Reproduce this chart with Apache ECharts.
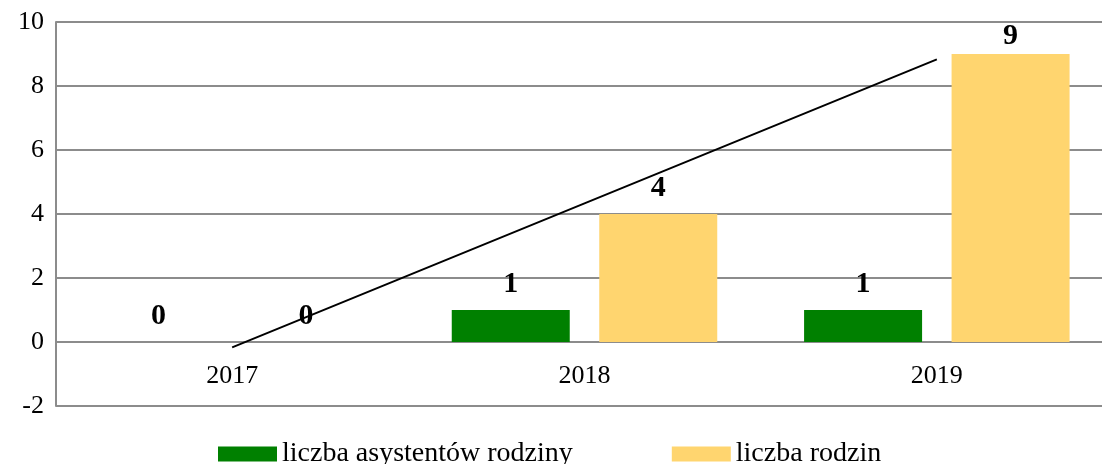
<!DOCTYPE html>
<html>
<head>
<meta charset="utf-8">
<script src="https://cdn.jsdelivr.net/npm/echarts@6/dist/echarts.min.js"></script>
<style>
html,body{margin:0;padding:0;background:#fff;overflow:hidden;}
#chart{width:1113px;height:464px;}
</style>
</head>
<body>
<div id="chart"></div>
<script>
var categories = ['2017', '2018', '2019'];
var asystenci = [0, 1, 1];
var rodziny = [0, 4, 9];
var trend = [-0.17, 4.33, 8.83];
var seriesNames = ['liczba asystentów rodziny', 'liczba rodzin', 'Liniowy (liczba rodzin)'];

var FONT = '"Liberation Serif", "Times New Roman", serif';
var chart = echarts.init(document.getElementById('chart'));
var labelStyle = {
  show: true, position: 'top', distance: 11,
  fontFamily: FONT, fontWeight: 'bold', fontSize: 30, color: '#000'
};
var rodzinyData = rodziny.map(function (v) {
  return v >= 9 ? { value: v, label: { distance: 3 } } : v;
});
chart.setOption({
  animation: false,
  textStyle: { fontFamily: FONT },
  grid: { left: 56, right: 0, top: 22, bottom: 58, containLabel: false },
  legend: {
    data: [seriesNames[0], seriesNames[1]],
    left: 213, top: 435,
    icon: 'rect',
    itemWidth: 59, itemHeight: 15, itemGap: 99,
    textStyle: { fontFamily: FONT, fontSize: 28, color: '#000' }
  },
  xAxis: {
    type: 'category', data: categories,
    axisLine: { show: false, onZero: false },
    axisTick: { show: false },
    axisLabel: { fontFamily: FONT, fontSize: 26, color: '#000', margin: -43 }
  },
  yAxis: {
    type: 'value', min: -2, max: 10, interval: 2,
    axisLine: { show: true, lineStyle: { color: '#8c8c8c', width: 2 } },
    axisTick: { show: false },
    splitLine: { lineStyle: { color: '#8c8c8c', width: 2 } },
    axisLabel: { fontFamily: FONT, fontSize: 26, color: '#000', margin: 12 }
  },
  series: [
    { name: seriesNames[0], type: 'bar', data: asystenci, barWidth: 118, barGap: '25%',
      itemStyle: { color: '#008000' }, label: labelStyle },
    { name: seriesNames[1], type: 'bar', data: rodzinyData, barWidth: 118,
      itemStyle: { color: '#FFD56F' }, label: labelStyle },
    { name: seriesNames[2], type: 'line', data: trend, symbol: 'none',
      lineStyle: { color: '#000', width: 2 }, z: 5 }
  ]
});
</script>
</body>
</html>
